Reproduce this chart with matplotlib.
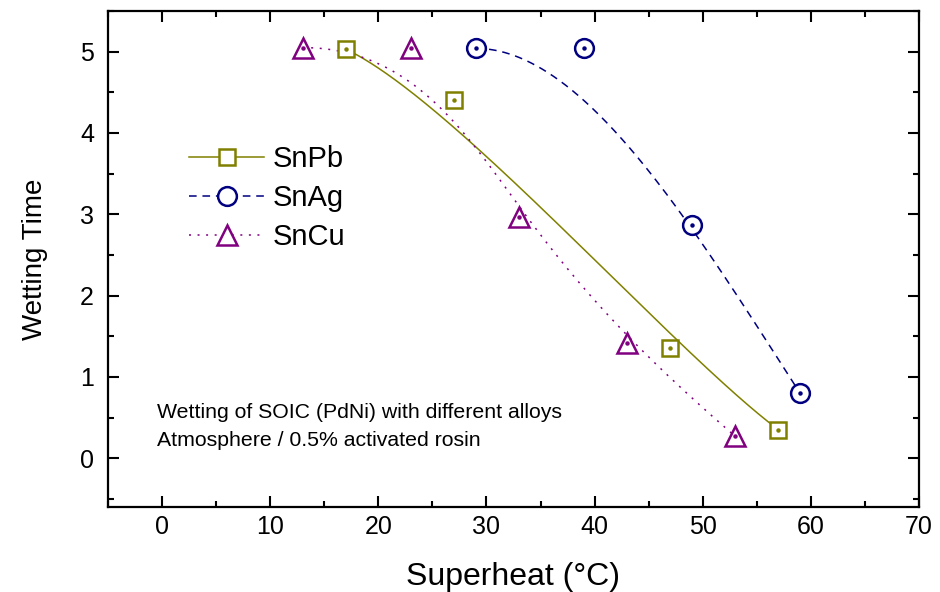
import numpy as np
import matplotlib
matplotlib.use("Agg")
import matplotlib.pyplot as plt
from matplotlib.ticker import MultipleLocator

plt.rcParams['font.family'] = ['Liberation Sans', 'DejaVu Sans']

# Data
snpb_x = [17, 27, 47, 57]
snpb_y = [5.03, 4.40, 1.35, 0.35]
snag_x = [29, 39, 49, 59]
snag_y = [5.04, 5.04, 2.87, 0.80]
sncu_x = [13, 23, 33, 43, 53]
sncu_y = [5.05, 5.05, 2.97, 1.42, 0.27]

series_names = ['SnPb', 'SnAg', 'SnCu']
colors = ['#808000', '#000080', '#800080']
markers = ['s', 'o', '^']
linestyles = ['-', (0, (5, 3.8)), (0, (1.3, 4.3))]
msizes = [12, 13.5, 14]

note_lines = ['Wetting of SOIC (PdNi) with different alloys',
              'Atmosphere / 0.5% activated rosin']


def bspline_curve(px, py, k=3, num=400):
    """Clamped uniform B-spline using the data points as control points."""
    P = np.column_stack([px, py]).astype(float)
    n = len(P)
    k = min(k, n - 1)
    n_int = n - k - 1
    knots = np.concatenate([np.zeros(k + 1),
                            np.linspace(0, 1, n_int + 2)[1:-1],
                            np.ones(k + 1)])
    ts = np.linspace(0, 1, num)
    out = np.zeros((num, 2))
    for j, t in enumerate(ts):
        N = np.zeros(len(knots) - 1)
        for i in range(len(knots) - 1):
            if knots[i] <= t < knots[i + 1]:
                N[i] = 1.0
        for d in range(1, k + 1):
            Nn = np.zeros(len(knots) - 1 - d)
            for i in range(len(Nn)):
                a = 0.0
                den1 = knots[i + d] - knots[i]
                den2 = knots[i + d + 1] - knots[i + 1]
                if den1 > 0:
                    a += (t - knots[i]) / den1 * N[i]
                if den2 > 0:
                    a += (knots[i + d + 1] - t) / den2 * N[i + 1]
                Nn[i] = a
            N = Nn
        if t >= 1.0:
            N = np.zeros(n); N[-1] = 1.0
        out[j] = N[:n] @ P
    return out[:, 0], out[:, 1]


fig = plt.figure(figsize=(9.4, 5.92), dpi=100)
ax = fig.add_axes([108 / 940, (592 - 507) / 592, (919 - 108) / 940, (507 - 11) / 592])

all_x = [snpb_x, snag_x, sncu_x]
all_y = [snpb_y, snag_y, sncu_y]
handles = []
for xs, ys, name, c, m, ls, ms in zip(all_x, all_y, series_names, colors, markers, linestyles, msizes):
    cx, cy = bspline_curve(xs, ys)
    ax.plot(cx, cy, color=c, lw=1.1, linestyle=ls, zorder=2)
    ax.plot(xs, ys, linestyle='none', marker=m, ms=ms, mfc='white', mec=c, mew=1.8, zorder=3)
    ax.plot(xs, ys, linestyle='none', marker='o', ms=2.2, mfc=c, mec=c, zorder=4)
    h, = ax.plot([], [], color=c, lw=1.1, linestyle=ls, marker=m, ms=ms, mfc='white', mec=c, mew=1.8)
    handles.append(h)

ax.set_xlim(-5, 70)
ax.set_ylim(-0.6, 5.5)
ax.xaxis.set_major_locator(MultipleLocator(10))
ax.xaxis.set_minor_locator(MultipleLocator(5))
ax.yaxis.set_major_locator(MultipleLocator(1))
ax.yaxis.set_minor_locator(MultipleLocator(0.5))
ax.tick_params(which='both', direction='in', top=True, right=True, width=1.5, labelsize=18)
ax.tick_params(which='major', length=8)
ax.tick_params(which='minor', length=4.5)
ax.tick_params(axis='x', which='major', pad=5.5)
ax.tick_params(axis='y', which='major', pad=10)
for s in ax.spines.values():
    s.set_linewidth(1.6)

ax.set_xlabel('Superheat (°C)', fontsize=23, labelpad=17)
ax.set_ylabel('Wetting Time', fontsize=20, labelpad=23)

leg = ax.legend(handles, series_names, loc='upper left', bbox_to_anchor=(0.085, 0.753),
                frameon=False, fontsize=21, handlelength=2.6, handletextpad=0.3,
                labelspacing=0.38, borderaxespad=0)

ax.text(0.06, 0.1915, note_lines[0], transform=ax.transAxes, fontsize=15.3, va='center')
ax.text(0.06, 0.135, note_lines[1], transform=ax.transAxes, fontsize=15.3, va='center')

fig.savefig('out.png', dpi=100)
